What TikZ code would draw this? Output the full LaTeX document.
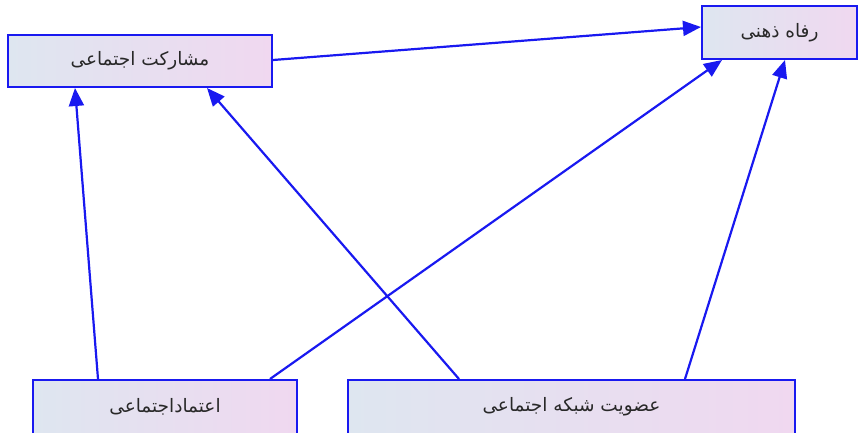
\documentclass[tikz,border=0pt]{standalone}
\usepackage{fontspec}
\newfontfamily\arabicfont[Script=Arabic]{DejaVu Sans}
\TeXXeTstate=1
\usetikzlibrary{arrows.meta}
\definecolor{linkblue}{RGB}{25,25,240}
\definecolor{boxleft}{RGB}{222,230,240}
\definecolor{boxright}{RGB}{240,216,240}
\definecolor{labelgray}{RGB}{40,40,40}
\tikzstyle{factor} = [rectangle, minimum height=52pt, text centered, draw=linkblue, line width=2pt, left color=boxleft, right color=boxright, text=labelgray, font=\arabicfont\fontsize{18.5}{20}\selectfont]
\tikzstyle{arrow} = [line width=2.2pt, draw=linkblue, -{Triangle[length=18pt,width=15pt]}]

\begin{document}
\begin{tikzpicture}[x=1pt, y=1pt]
	\useasboundingbox (0,0) rectangle (859,432);

		\node (participation) [factor, minimum width=264pt] at (140,371) {\beginR مشارکت اجتماعی\endR};
		\node (wellbeing) [factor, minimum width=155pt, minimum height=53pt] at (779.5,399.5) {\beginR رفاه ذهنی\endR};
		\node (trust) [factor, minimum width=264pt, minimum height=54pt] at (165,25) {\beginR اعتماداجتماعی\endR};
		\node (membership) [factor, minimum width=447pt, minimum height=54pt] at (571.5,25) {\beginR عضویت شبکه اجتماعی\endR};

		\draw[arrow] ([yshift=1pt]participation.east) -- ([yshift=5.5pt]wellbeing.west);
		\draw[arrow] ([xshift=-67pt]trust.north) -- ([xshift=-65pt]participation.south);
		\draw[arrow] ([xshift=-112.5pt]membership.north) -- ([xshift=67pt]participation.south);
		\draw[arrow] ([xshift=105pt]trust.north) -- ([xshift=-57.5pt]wellbeing.south);
		\draw[arrow] ([xshift=113.5pt]membership.north) -- ([xshift=5.5pt]wellbeing.south);
	\end{tikzpicture}
\end{document}
